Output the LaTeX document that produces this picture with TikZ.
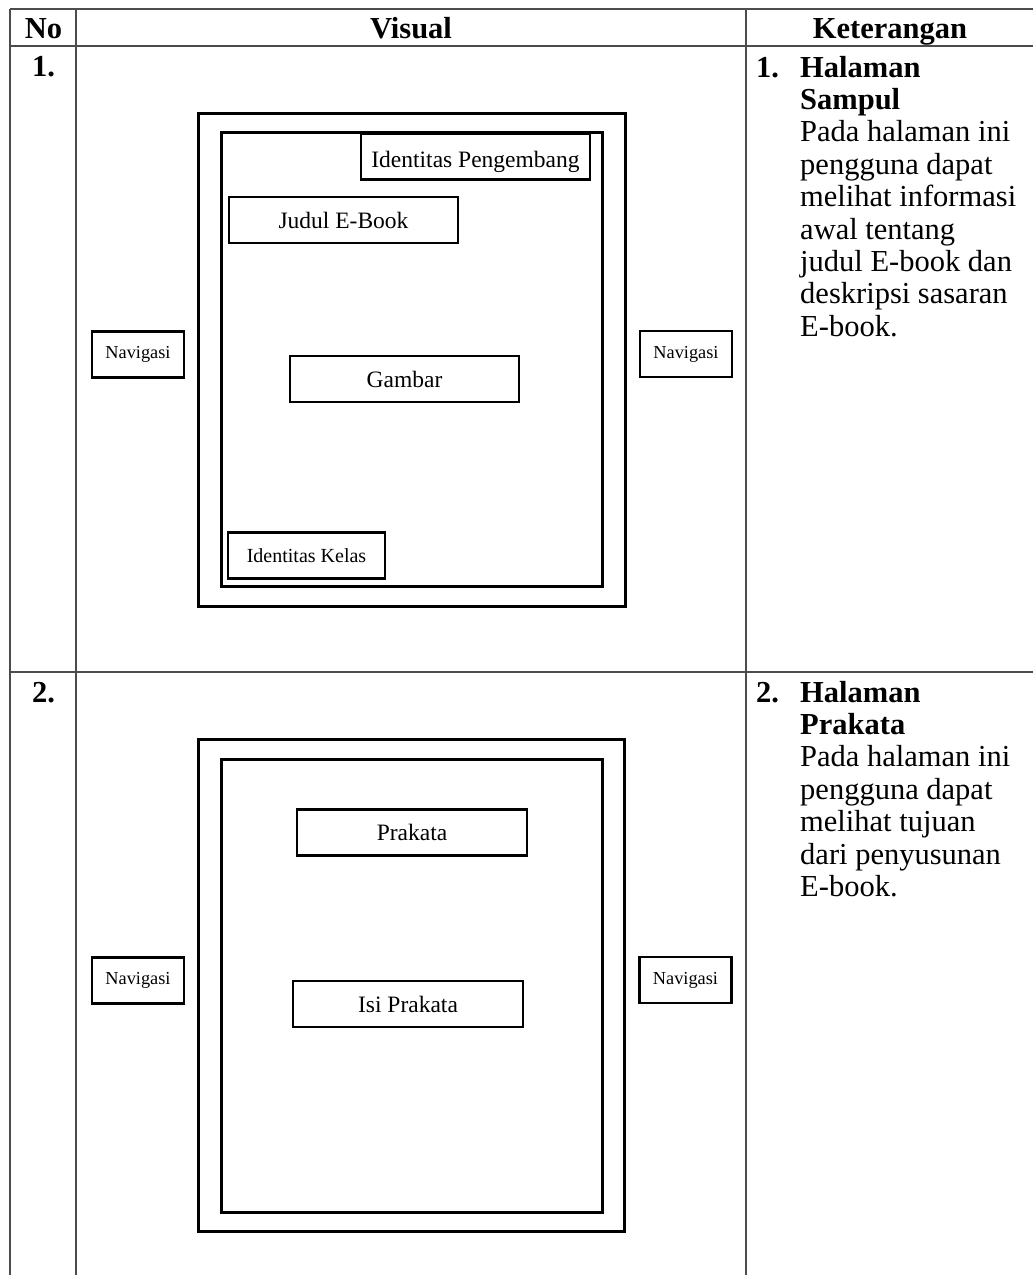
\documentclass[tikz,border=0pt]{standalone}
\usepackage{fontspec}
\setmainfont{Liberation Serif}
\usetikzlibrary{positioning}

\begin{document}
\begin{tikzpicture}[x=1pt,y=-1pt,
	gridline/.style={draw=black!70, line width=1.4pt},
	pgframe/.style={rectangle, draw=black, line width=3pt, inner sep=0pt},
	pgpart/.style={rectangle, draw=black, line width=2.5pt, inner sep=0pt, minimum width=229pt, minimum height=46pt, font=\fontsize{23.5}{28}\selectfont},
	navbox/.style={pgpart, minimum width=92pt, font=\fontsize{18.3}{22}\selectfont},
	headtxt/.style={font=\fontsize{30.5}{34}\selectfont\bfseries, anchor=base, inner sep=0pt},
	desctxt/.style={font=\fontsize{30.5}{32.4}\selectfont, anchor=base west, inner sep=0pt}]
	\useasboundingbox (0,0) rectangle (1033,1275);
	% table
	\draw[gridline] (10,9) -- (1033,9);
	\draw[gridline] (10,46) -- (1033,46);
	\draw[gridline] (10,672) -- (1033,672);
	\draw[gridline] (10,9) -- (10,1275);
	\draw[gridline] (76,9) -- (76,1275);
	\draw[gridline] (746,9) -- (746,1275);
	\node[headtxt] (colno) at (43.5,38) {No};
	\node[headtxt] (colvisual) at (411,38) {Visual};
	\node[headtxt] (colinfo) at (890,38) {Keterangan};
	% row 1: halaman sampul
	\node[headtxt, anchor=base west] (no1) at (32,76) {1.};
	\node[pgframe, minimum width=427pt, minimum height=493pt] (cover) at (411.5,359.5) {};
	\node[pgframe, minimum width=381pt, minimum height=454pt] (coverpage) at (411.5,359) {};
	\node[pgpart, text height=21pt, text depth=0pt] (devid) at (475.5,156.5) {Identitas Pengembang};
	\node[pgpart] (title) at (343.5,220) {Judul E-Book};
	\node[pgpart] (image) at (404.5,379) {Gambar};
	\node[pgpart, minimum width=157pt, font=\fontsize{20}{24}\selectfont] (classid) at (306.5,555.5) {Identitas Kelas};
	\node[navbox] (navl1) at (138,354.5) {Navigasi};
	\node[navbox] (navr1) at (686,354) {Navigasi};
	\node[headtxt, anchor=base west] (item1) at (756,77) {1.};
	\node[desctxt] (desc1) at (800,77) {\parbox[t]{300pt}{\textbf{Halaman}\\\textbf{Sampul}\\Pada halaman ini\\pengguna dapat\\melihat informasi\\awal tentang\\judul E-book dan\\deskripsi sasaran\\E-book.}};
	% row 2: halaman prakata
	\node[headtxt, anchor=base west] (no2) at (32,702) {2.};
	\node[pgframe, minimum width=426pt, minimum height=492pt] (preface) at (411,985) {};
	\node[pgframe, minimum width=381pt, minimum height=453pt] (prefacepage) at (411.5,985.5) {};
	\node[pgpart, minimum width=230pt] (prefhead) at (412,832.5) {Prakata};
	\node[pgpart, minimum width=230pt] (prefbody) at (408,1004) {Isi Prakata};
	\node[navbox] (navl2) at (138,980.5) {Navigasi};
	\node[navbox] (navr2) at (685.5,980) {Navigasi};
	\node[headtxt, anchor=base west] (item2) at (756,702) {2.};
	\node[desctxt] (desc2) at (800,702) {\parbox[t]{300pt}{\textbf{Halaman}\\\textbf{Prakata}\\Pada halaman ini\\pengguna dapat\\melihat tujuan\\dari penyusunan\\E-book.}};
\end{tikzpicture}
\end{document}
